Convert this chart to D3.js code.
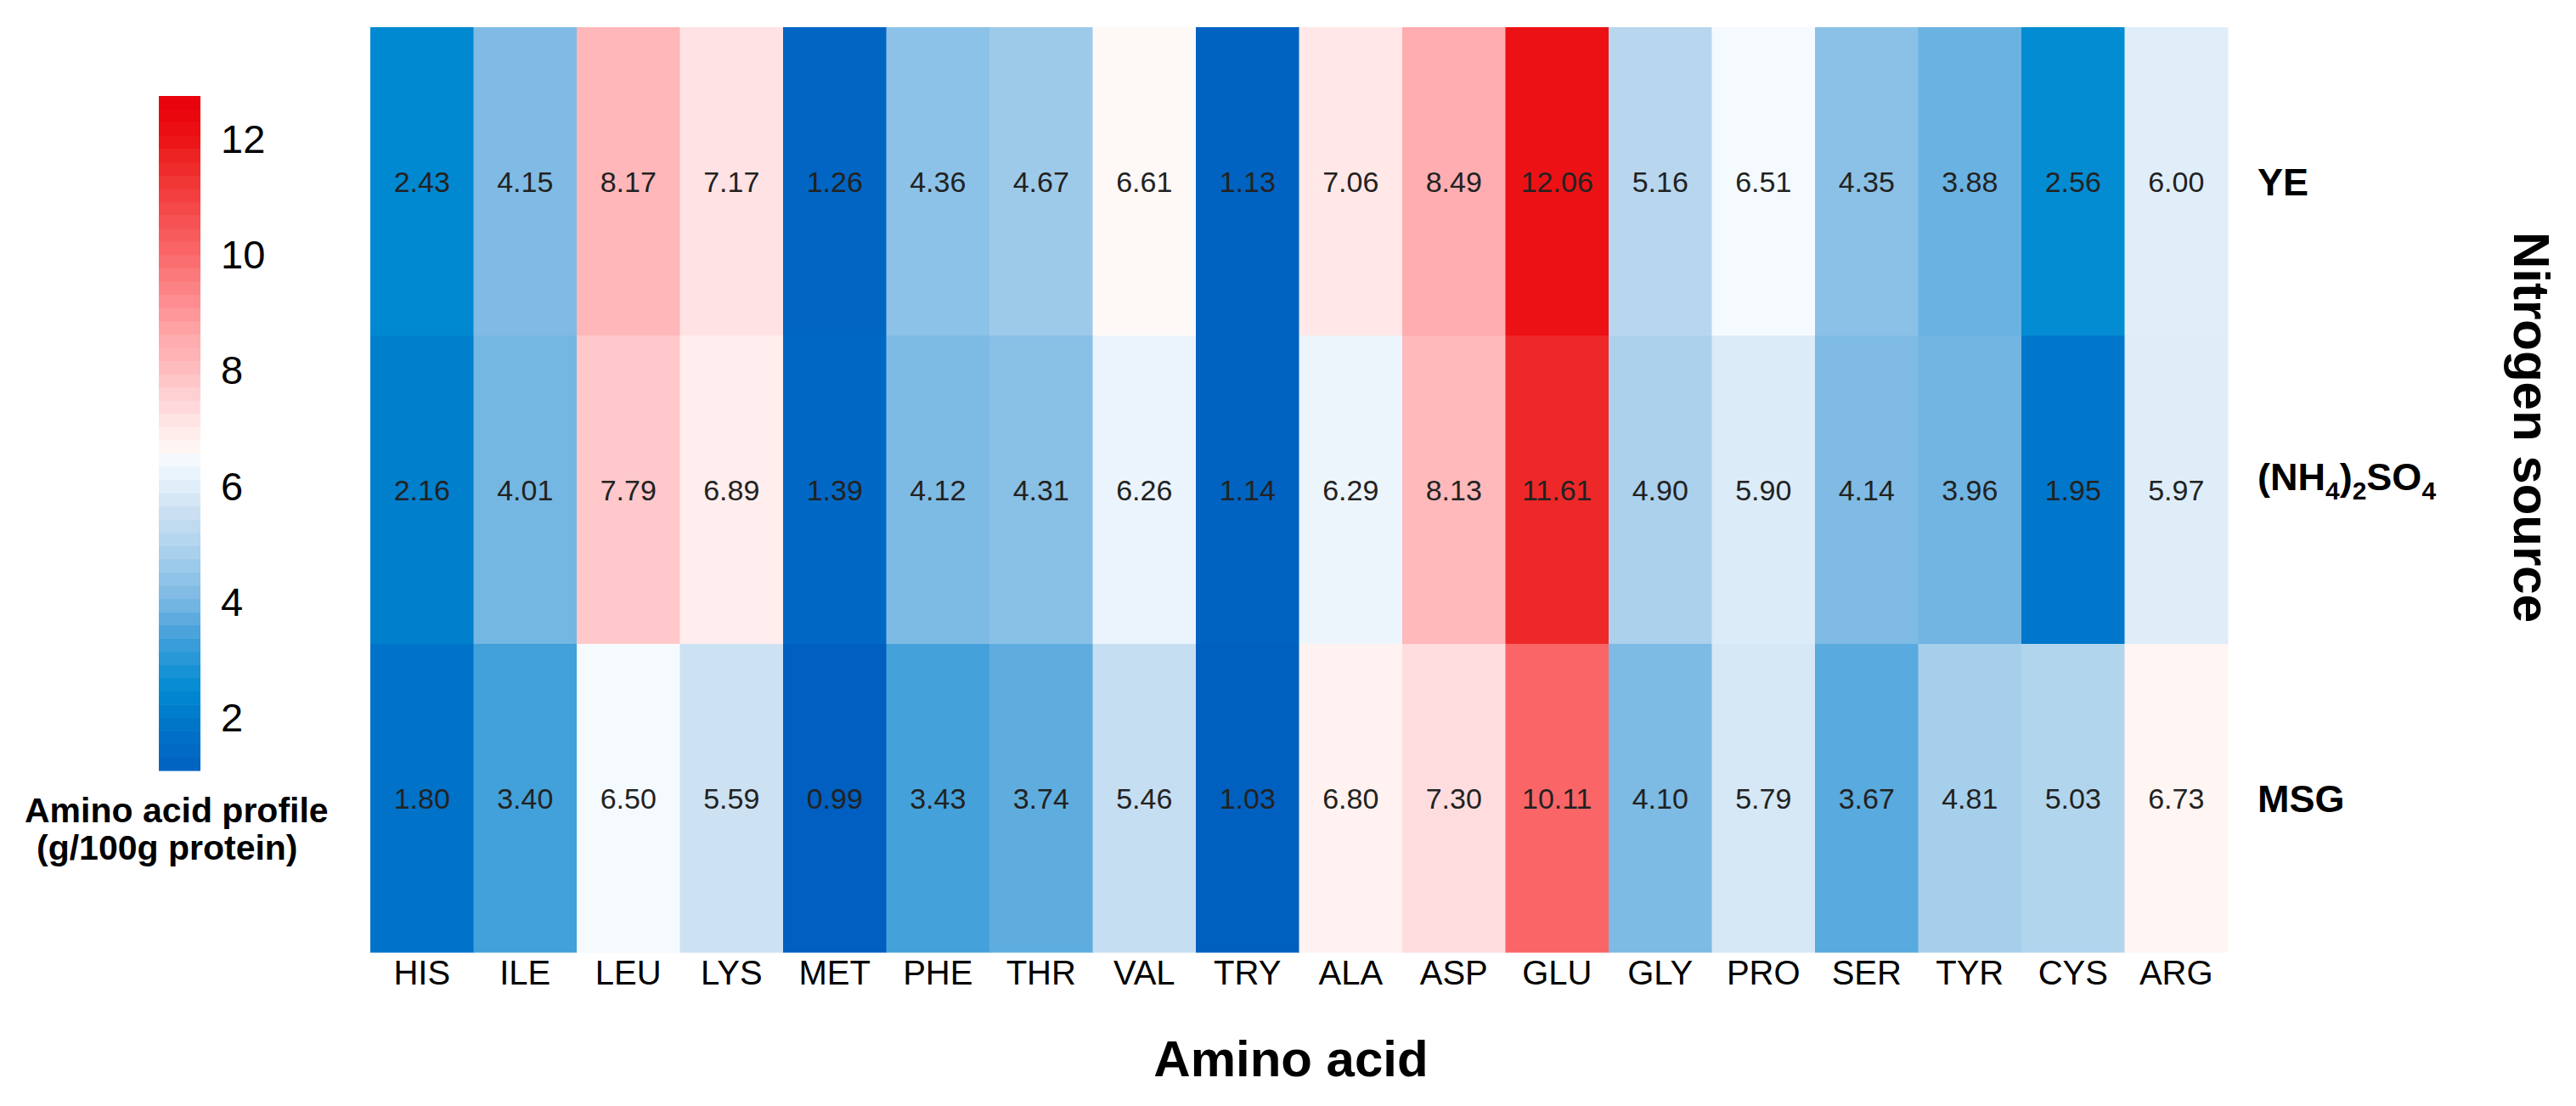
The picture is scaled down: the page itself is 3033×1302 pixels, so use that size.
<!DOCTYPE html>
<html>
<head>
<meta charset="utf-8">
<script src="https://cdn.jsdelivr.net/npm/d3@7"></script>
<style>
  body { margin: 0; background: #fff; }
  svg { display: block; font-family: "Liberation Sans", Arial, sans-serif; }
</style>
</head>
<body>
<script>
// amino acid profile (g/100g protein) by nitrogen source
const aminoAcids = ["HIS", "ILE", "LEU", "LYS", "MET", "PHE", "THR", "VAL", "TRY",
  "ALA", "ASP", "GLU", "GLY", "PRO", "SER", "TYR", "CYS", "ARG"];
const sources = ["YE", "NH4SO4", "MSG"];
const yeValues = [2.43, 4.15, 8.17, 7.17, 1.26, 4.36, 4.67, 6.61, 1.13, 7.06, 8.49, 12.06, 5.16, 6.51, 4.35, 3.88, 2.56, 6.00];
const nh4Values = [2.16, 4.01, 7.79, 6.89, 1.39, 4.12, 4.31, 6.26, 1.14, 6.29, 8.13, 11.61, 4.90, 5.90, 4.14, 3.96, 1.95, 5.97];
const msgValues = [1.80, 3.40, 6.50, 5.59, 0.99, 3.43, 3.74, 5.46, 1.03, 6.80, 7.30, 10.11, 4.10, 5.79, 3.67, 4.81, 5.03, 6.73];
const legendTicks = [2, 4, 6, 8, 10, 12];
const legendDomain = [1.1, 12.75];

const width = 3033;
const height = 1302;
const heat = { left: 436, right: 2623, top: 32, bottom: 1121 };

// colour ramp, blue -> white -> red
const stopValues = [0.99, 1.8, 2.5, 3.4, 4.1, 5.0, 5.6, 6.0, 6.55, 6.62, 7.1, 7.3, 8.2, 8.5, 10.1, 11.6, 12.06, 12.75];
const stopColors = ["#005fc0", "#0072c8", "#008bd2", "#42a0da", "#7dbae4", "#b1d4ee", "#cce1f2", "#e0eef9",
  "#f7fbff", "#fff9f6", "#ffe6e6", "#ffdddf", "#ffb6b8", "#ffadb0", "#fa6567", "#ee2828", "#ec1114", "#e8000a"];
const color = d3.scaleLinear().domain(stopValues).range(stopColors).interpolate(d3.interpolateRgb).clamp(true);

const rows = [yeValues, nh4Values, msgValues];
const cells = [];
rows.forEach((vals, r) => vals.forEach((v, c) => cells.push({ src: sources[r], aa: aminoAcids[c], v })));

const svg = d3.select("body").append("svg")
  .attr("width", width)
  .attr("height", height);

svg.append("rect").attr("width", width).attr("height", height).attr("fill", "#fff");

const x = d3.scaleBand().domain(aminoAcids).range([heat.left, heat.right]);
const y = d3.scaleBand().domain(sources).range([heat.top, heat.bottom]);

svg.append("g").selectAll("rect")
  .data(cells)
  .enter()
  .append("rect")
  .attr("x", d => x(d.aa))
  .attr("y", d => y(d.src))
  .attr("width", x.bandwidth() + 0.5)
  .attr("height", y.bandwidth() + 0.5)
  .attr("fill", d => color(d.v));

svg.append("g").selectAll("text")
  .data(cells)
  .enter()
  .append("text")
  .attr("x", d => x(d.aa) + x.bandwidth() / 2)
  .attr("y", d => y(d.src) + y.bandwidth() / 2)
  .attr("dy", "0.36em")
  .attr("text-anchor", "middle")
  .attr("fill", "#222")
  .style("font-size", "34px")
  .text(d => d.v.toFixed(2));

// x axis
const xAxis = svg.append("g")
  .attr("transform", `translate(0,${heat.bottom})`)
  .call(d3.axisBottom(x).tickSize(0).tickPadding(10));
xAxis.select(".domain").remove();
xAxis.selectAll("text")
  .attr("fill", "#000")
  .style("font-family", "'Liberation Sans', Arial, sans-serif")
  .style("font-size", "40px");

svg.append("text")
  .attr("x", 1520)
  .attr("y", 1267)
  .attr("text-anchor", "middle")
  .style("font-size", "60px")
  .style("font-weight", "bold")
  .text("Amino acid");

// row labels on the right
const rowLabels = svg.append("g").selectAll("text")
  .data(sources)
  .enter()
  .append("text")
  .attr("x", 2658)
  .attr("y", d => y(d) + y.bandwidth() / 2)
  .attr("dy", "0.36em")
  .style("font-size", "45px")
  .style("font-weight", "bold");

rowLabels.each(function(d) {
  const t = d3.select(this);
  if (d !== "NH4SO4") { t.text(d); return; }
  const parts = [["(NH", 0], ["4", 1], [")", 0], ["2", 1], ["SO", 0], ["4", 1]];
  let prevSub = 0;
  parts.forEach(([s, sub]) => {
    t.append("tspan")
      .attr("dy", sub === prevSub ? 0 : (sub ? 11 : -11))
      .style("font-size", sub ? "30px" : "45px")
      .text(s);
    prevSub = sub;
  });
});

svg.append("text")
  .attr("transform", "translate(2960,503) rotate(90)")
  .attr("text-anchor", "middle")
  .style("font-size", "60px")
  .style("font-weight", "bold")
  .text("Nitrogen source");

// colour legend
const legend = { x: 187, w: 49, top: 113, bottom: 907 };
const ly = d3.scaleLinear().domain(legendDomain).range([legend.bottom, legend.top]);
const nBands = 51;
const step = (legendDomain[1] - legendDomain[0]) / nBands;
const bands = d3.range(nBands).map(i => legendDomain[0] + i * step);

svg.append("g").selectAll("rect")
  .data(bands)
  .enter()
  .append("rect")
  .attr("x", legend.x)
  .attr("y", d => ly(d + step))
  .attr("width", legend.w)
  .attr("height", d => ly(d) - ly(d + step) + 0.6)
  .attr("fill", d => color(d + step / 2));

const lAxis = svg.append("g")
  .attr("transform", `translate(${legend.x + legend.w},0)`)
  .call(d3.axisRight(ly).tickValues(legendTicks).tickSize(0).tickPadding(24));
lAxis.select(".domain").remove();
lAxis.selectAll("text")
  .attr("fill", "#000")
  .style("font-family", "'Liberation Sans', Arial, sans-serif")
  .style("font-size", "47px");

svg.append("text")
  .attr("x", 29)
  .attr("y", 968)
  .style("font-size", "41px")
  .style("font-weight", "bold")
  .text("Amino acid profile");

svg.append("text")
  .attr("x", 43)
  .attr("y", 1012)
  .style("font-size", "41px")
  .style("font-weight", "bold")
  .text("(g/100g protein)");
</script>
</body>
</html>
